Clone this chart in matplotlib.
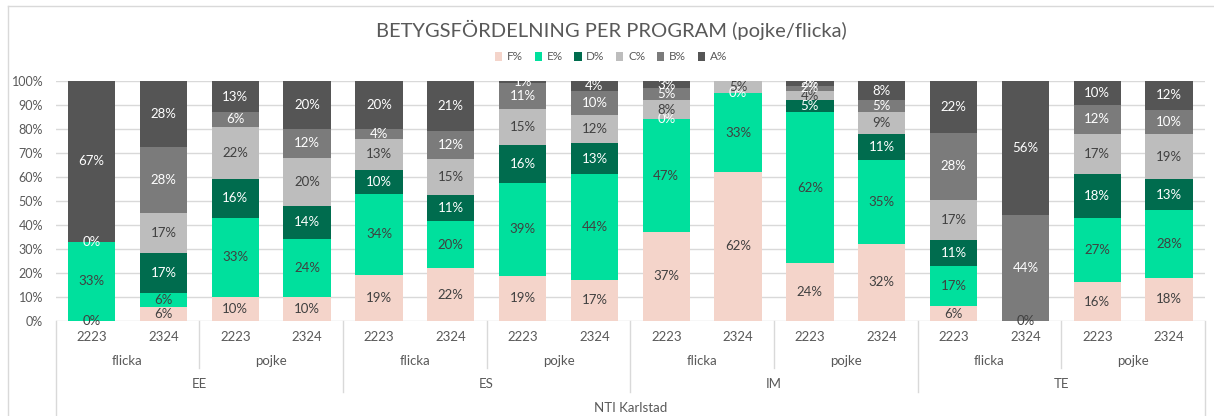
import matplotlib
matplotlib.use("Agg")
import matplotlib.pyplot as plt
import matplotlib.transforms as mtransforms
from matplotlib.lines import Line2D
from matplotlib.patches import Patch
import numpy as np

plt.rcParams['font.family'] = ['Lato', 'DejaVu Sans']

nan = np.nan
programs = ["EE", "ES", "IM", "TE"]
genders = ["flicka", "pojke"]
years = ["2223", "2324"]
series = ["F%", "E%", "D%", "C%", "B%", "A%"]
colors = ["#F4D4CA", "#00E09D", "#006C4E", "#BDBDBD", "#7B7B7B", "#555555"]
label_colors = ["#404040", "#404040", "white", "#404040", "white", "white"]

# order: EE flicka 2223, EE flicka 2324, EE pojke 2223, ... TE pojke 2324
F = [0, 6, 10, 10, 19, 22, 19, 17, 37, 62, 24, 32, 6, 0, 16, 18]
E = [33, 6, 33, 24, 34, 20, 39, 44, 47, 33, 62, 35, 17, nan, 27, 28]
D = [0, 17, 16, 14, 10, 11, 16, 13, 0, 0, 5, 11, 11, nan, 18, 13]
C = [nan, 17, 22, 20, 13, 15, 15, 12, 8, 5, 4, 9, 17, nan, 17, 19]
B = [nan, 28, 6, 12, 4, 12, 11, 10, 5, nan, 2, 5, 28, 44, 12, 10]
A = [67, 28, 13, 20, 20, 21, 1, 4, 3, nan, 2, 8, 22, 56, 10, 12]

data = np.array([F, E, D, C, B, A], dtype=float)
totals = np.nansum(data, axis=0)
heights = np.nan_to_num(data) / totals * 100

W, H = 1214, 416
fig = plt.figure(figsize=(W / 100, H / 100), dpi=100)
ax_l, ax_r, ax_t, ax_b = 55.7, 1205, 81, 320.7
ax = fig.add_axes([ax_l / W, (H - ax_b) / H, (ax_r - ax_l) / W, (ax_b - ax_t) / H])

n = data.shape[1]
x = np.arange(n)
bottom = np.zeros(n)
for i, s in enumerate(series):
    ax.bar(x, heights[i], bottom=bottom, width=0.66, color=colors[i], label=s, zorder=2)
    for j in range(n):
        if not np.isnan(data[i, j]):
            ax.text(x[j], bottom[j] + heights[i, j] / 2, f"{int(data[i, j])}%",
                    ha="center", va="center", fontsize=9.5, color=label_colors[i], zorder=3)
    bottom += heights[i]

ax.set_xlim(-0.5, n - 0.5)
ax.set_ylim(0, 100)
ax.set_yticks(np.arange(0, 101, 10))
ax.set_yticklabels([f"{v}%" for v in range(0, 101, 10)], fontsize=9, color="#595959")
ax.tick_params(axis="y", length=0, pad=9)
ax.set_xticks([])
for sp in ax.spines.values():
    sp.set_visible(False)
ax.grid(axis="y", color="#D9D9D9", linewidth=1, zorder=0)
ax.set_axisbelow(True)

# category axis (multi-level)
tr = mtransforms.blended_transform_factory(ax.transData, fig.transFigure)
def fy(py):
    return (H - py) / H

txtc = "#595959"
for j in range(n):
    ax.text(x[j], fy(337), years[j % 2], transform=tr, ha="center", va="center",
            fontsize=9.5, color=txtc)
for g in range(n // 2):
    ax.text(2 * g + 0.5, fy(361), genders[g % 2], transform=tr, ha="center", va="center",
            fontsize=9.5, color=txtc)
for p in range(n // 4):
    ax.text(4 * p + 1.5, fy(384), programs[p], transform=tr, ha="center", va="center",
            fontsize=9.5, color=txtc)
ax.text((n - 1) / 2, fy(408), "NTI Karlstad", transform=tr, ha="center", va="center",
        fontsize=9.5, color=txtc)

lc = "#D9D9D9"
for g in range(1, n // 2):
    xx = 2 * g - 0.5
    y_end = 392 if g % 2 == 0 else 368
    fig.add_artist(Line2D([xx, xx], [fy(320.7), fy(y_end)], transform=tr, color=lc, lw=1))
for xx in [-0.5, n - 0.5]:
    fig.add_artist(Line2D([xx, xx], [fy(320.7), fy(416)], transform=tr, color=lc, lw=1))

# chart border
fig.add_artist(Line2D([8 / W, 8 / W], [0, fy(6)], transform=fig.transFigure, color="#D9D9D9", lw=1))
fig.add_artist(Line2D([8 / W, 1], [fy(6), fy(6)], transform=fig.transFigure, color="#D9D9D9", lw=1))

fig.text(611 / W, fy(30), "BETYGSFÖRDELNING PER PROGRAM (pojke/flicka)", ha="center",
         va="center", fontsize=14.5, color="#595959")

handles = [Patch(facecolor=c, edgecolor="none") for c in colors]
fig.legend(handles, series, loc="center", bbox_to_anchor=(611 / W, fy(57)), ncol=6,
           frameon=False, fontsize=8.5, handlelength=0.6, handleheight=0.9,
           handletextpad=0.4, columnspacing=1.0, labelcolor="#595959")

fig.savefig("out.png", dpi=100)
